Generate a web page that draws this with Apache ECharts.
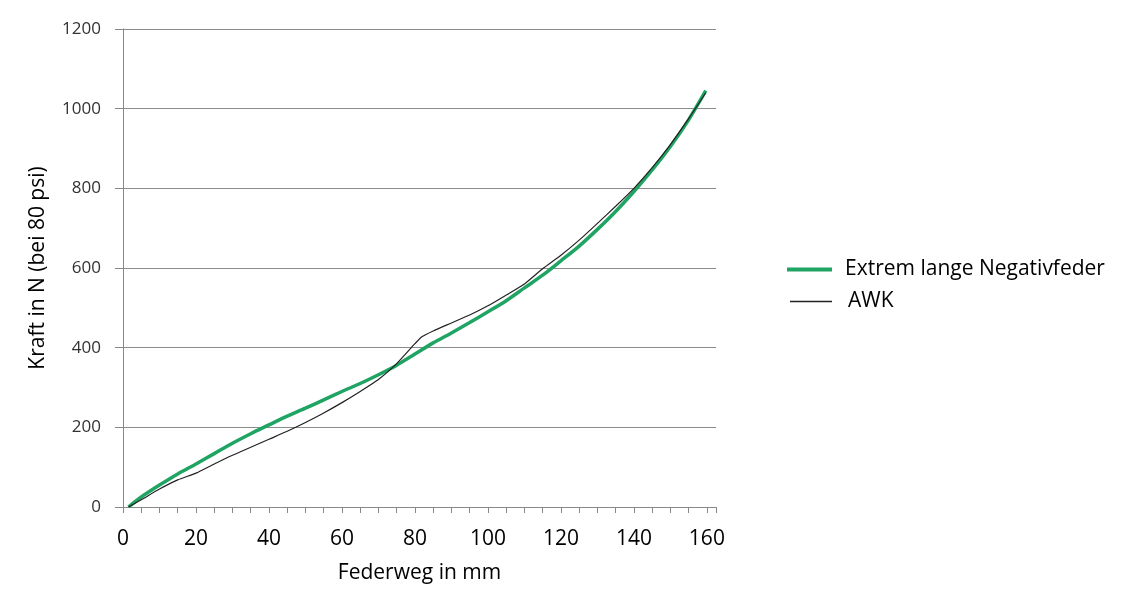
<!DOCTYPE html>
<html>
<head>
<meta charset="utf-8">
<script src="https://cdn.jsdelivr.net/npm/echarts@6/dist/echarts.min.js"></script>
<style>html,body{margin:0;padding:0;background:#fff}#c{width:1140px;height:593px}</style>
</head>
<body>
<div id="c"></div>
<script>
var xTicks = [0, 20, 40, 60, 80, 100, 120, 140, 160];
var yTicks = [0, 200, 400, 600, 800, 1000, 1200];
var seriesNames = ['Extrem lange Negativfeder', 'AWK'];

var greenX = [1.5, 5, 10, 15, 20, 25, 30, 35, 40, 45, 50, 55, 60, 65, 70, 75, 80, 85, 90, 95, 100, 105, 110, 115, 120, 125, 130, 135, 140, 145, 150, 155, 159.7];
var greenY = [0, 25, 55, 83, 108, 134, 160, 184, 206, 228, 248, 269, 290, 310, 332, 356, 384, 412, 437, 463, 490, 518, 550, 582, 618, 655, 697, 742, 792, 846, 905, 972, 1045];

var awkX = [1.5, 5, 10, 15, 20, 25, 30, 35, 40, 45, 50, 55, 60, 65, 70, 75, 80, 82, 85, 90, 95, 100, 105, 110, 115, 120, 125, 130, 135, 140, 145, 150, 155, 159.7];
var awkY = [0, 18, 45, 68, 85, 108, 130, 150, 170, 190, 212, 236, 262, 290, 320, 360, 410, 428, 442, 462, 482, 505, 532, 560, 598, 632, 670, 712, 755, 800, 852, 910, 975, 1040];

function pairs(xs, ys) { return xs.map(function (x, i) { return [x, ys[i]]; }); }

var chart = echarts.init(document.getElementById('c'));
var font = '"Open Sans", "DejaVu Sans", sans-serif';
var legendText = { fontSize: 21, color: '#000', fontFamily: font, padding: [0, 0, 0, 8] };
chart.setOption({
  animation: false,
  backgroundColor: '#fff',
  textStyle: { fontFamily: font },
  grid: { left: 123, right: 424, top: 29, bottom: 86 },
  legend: [
    {
      left: 782, top: 254,
      icon: 'rect', itemWidth: 45, itemHeight: 4,
      textStyle: legendText,
      data: [seriesNames[0]]
    },
    {
      left: 785, top: 286,
      icon: 'rect', itemWidth: 42, itemHeight: 1.5,
      textStyle: { fontSize: 21, color: '#000', fontFamily: font, padding: [0, 0, 0, 11] },
      data: [seriesNames[1]]
    }
  ],
  xAxis: {
    type: 'value',
    min: 0,
    max: 162.5,
    interval: 20,
    name: 'Federweg in mm',
    nameLocation: 'middle',
    nameGap: 56,
    nameTextStyle: { fontSize: 21, color: '#000' },
    axisLine: { lineStyle: { color: '#888', width: 1 } },
    axisTick: { show: true, length: 6, inside: false, lineStyle: { color: '#888' } },
    minorTick: { show: true, splitNumber: 4, length: 6, lineStyle: { color: '#888' } },
    axisLabel: { fontSize: 21, color: '#000', margin: 22, showMaxLabel: false,
      formatter: function (v) { return xTicks.indexOf(v) >= 0 ? String(v) : ''; } },
    splitLine: { show: false }
  },
  yAxis: {
    type: 'value',
    min: 0,
    max: 1200,
    interval: 200,
    name: 'Kraft in N (bei 80 psi)',
    nameLocation: 'middle',
    nameGap: 74,
    nameTextStyle: { fontSize: 21, color: '#000' },
    axisLine: { show: true, lineStyle: { color: '#888', width: 1 } },
    axisTick: { show: true, length: 8, lineStyle: { color: '#888' } },
    axisLabel: { fontSize: 17, color: '#333', margin: 22,
      formatter: function (v) { return yTicks.indexOf(v) >= 0 ? String(v) : ''; } },
    splitLine: { show: true, lineStyle: { color: '#8c8c8c', width: 1.2 } }
  },
  series: [
    {
      name: seriesNames[0],
      type: 'line',
      data: pairs(greenX, greenY),
      showSymbol: false,
      symbol: 'none',
      smooth: 0.3,
      color: '#1fa463',
      itemStyle: { color: '#1fa463' },
      lineStyle: { color: '#1fa463', width: 3.5 },
      z: 2
    },
    {
      name: seriesNames[1],
      type: 'line',
      data: pairs(awkX, awkY),
      showSymbol: false,
      symbol: 'none',
      smooth: 0.2,
      color: '#222',
      itemStyle: { color: '#222' },
      lineStyle: { color: '#222', width: 1.2 },
      z: 3
    }
  ]
});
</script>
</body>
</html>
